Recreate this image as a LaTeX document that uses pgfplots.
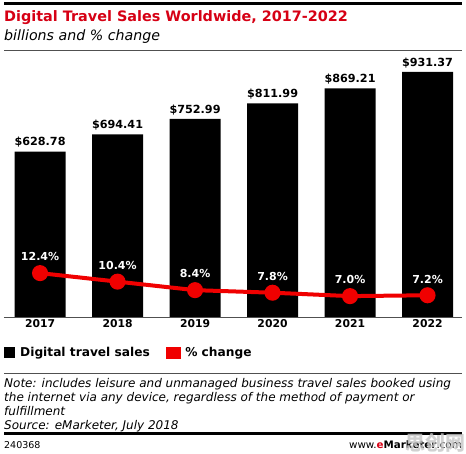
\documentclass[border=0pt]{standalone}
\usepackage{fontspec}
\setmainfont{DejaVu Sans}
\newfontfamily\cjk{Noto Sans CJK SC}
\usepackage{pgfplots}
\pgfplotsset{compat=1.18}
\definecolor{emred}{RGB}{214,0,20}
\definecolor{linered}{RGB}{240,0,0}
\definecolor{rulegray}{RGB}{80,80,80}

\begin{document}
\begin{tikzpicture}[x=1pt,y=1pt]
\path (0,0) rectangle (466,454);
% header
\draw[line width=3pt] (4,450) -- (462,450);
\node[anchor=base west, inner sep=0, text=emred, font=\bfseries\fontsize{14.4}{16}\selectfont] at (4,432) {Digital Travel Sales Worldwide, 2017-2022};
\node[anchor=base west, inner sep=0, font=\itshape\fontsize{14.2}{16}\selectfont] at (4,413) {billions and \% change};
\draw[line width=0.8pt, rulegray] (4,404) -- (462,404);

% sales bars
\begin{axis}[
  at={(4pt,137pt)}, anchor=south west,
  width=458pt, height=262pt, scale only axis,
  xmin=-0.465, xmax=5.445, ymin=0, ymax=996,
  axis y line=none, axis x line*=bottom,
  x axis line style={rulegray, line width=0.8pt, -},
  xtick={0,1,2,3,4,5}, xticklabels={2017,2018,2019,2020,2021,2022},
  xtick style={draw=none},
  xticklabel style={font=\bfseries\fontsize{10.8}{12}\selectfont, yshift=1pt},
  /pgf/number format/assume math mode=true,
  clip=false,
  legend style={at={(0,-0.137)}, anchor=west, draw=none, fill=none,
    legend columns=2, font=\bfseries\fontsize{12.2}{14}\selectfont,
    /tikz/every odd column/.append style={column sep=3pt},
    /tikz/every even column/.append style={column sep=14pt},
    inner sep=0pt},
  legend cell align=left,
]
\addplot[ybar, bar width=51pt, fill=black, draw=none,
  nodes near coords={\$\pgfmathprintnumber[fixed,precision=2,fixed zerofill,1000 sep={}]{\pgfplotspointmeta}},
  every node near coord/.append style={font=\bfseries\fontsize{11.2}{13}\selectfont, anchor=south, inner sep=0pt, yshift=4pt},
  legend image code/.code={\fill[black] (0pt,-5.5pt) rectangle (11pt,5.5pt);}]
  coordinates {(0,628.78) (1,694.41) (2,752.99) (3,811.99) (4,869.21) (5,931.37)};
\addlegendentry{Digital travel sales}
\addlegendimage{legend image code/.code={\fill[linered] (0pt,-5.5pt) rectangle (14pt,5.5pt);}}
\addlegendentry{\% change}
\end{axis}

% percent change line
\begin{axis}[
  at={(4pt,137pt)}, anchor=south west,
  width=458pt, height=262pt, scale only axis,
  xmin=-0.465, xmax=5.445, ymin=2.1, ymax=63.6,
  axis lines=none, clip=false,
  /pgf/number format/assume math mode=true,
]
\addplot[linered, line width=4pt, mark=*, mark size=6pt,
  mark options={fill=linered, draw=none},
  nodes near coords={\pgfmathprintnumber[fixed,precision=1,fixed zerofill]{\pgfplotspointmeta}\%},
  every node near coord/.append style={text=white, font=\bfseries\fontsize{11}{13}\selectfont, anchor=south, inner sep=0pt, yshift=10pt}]
  coordinates {(0,12.4) (1,10.4) (2,8.4) (3,7.8) (4,7.0) (5,7.2)};
\end{axis}

% notes
\draw[line width=0.8pt, rulegray] (4,81) -- (462,81);
\begin{scope}[every node/.style={anchor=base west, inner sep=0, font=\itshape\fontsize{12}{13}\selectfont}]
\node at (4,66) {Note: includes leisure and unmanaged business travel sales booked using};
\node at (4,52.3) {the internet via any device, regardless of the method of payment or};
\node at (4,38.6) {fulfillment};
\node at (4,24.9) {Source: eMarketer, July 2018};
\end{scope}
\draw[line width=3pt] (4,20) -- (462,20);
\node[anchor=base west, inner sep=0, font=\fontsize{9.5}{10}\selectfont] at (4,5) {240368};
\node[anchor=base east, inner sep=0, font=\fontsize{10.3}{11}\selectfont] at (462,5) {www.{\bfseries\textcolor{emred}{e}Marketer}.com};
\node[anchor=south east, inner sep=0, text=gray!45, opacity=0.8, font=\cjk\bfseries\fontsize{20}{22}\selectfont] at (466,1) {思创网};
\end{tikzpicture}
\end{document}
